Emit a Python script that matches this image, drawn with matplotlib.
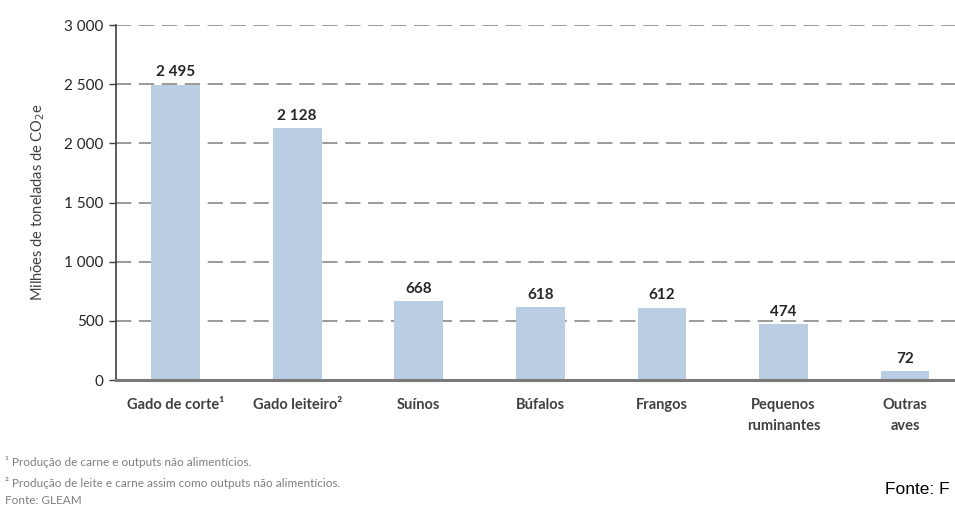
import matplotlib
matplotlib.use("Agg")
import matplotlib.pyplot as plt
from matplotlib.ticker import FixedLocator

categories = ["Gado de corte¹", "Gado leiteiro²", "Suínos", "Búfalos", "Frangos",
              "Pequenos\nruminantes", "Outras\naves"]
values = [2495, 2128, 668, 618, 612, 474, 72]
value_labels = ["2 495", "2 128", "668", "618", "612", "474", "72"]
yticks = [0, 500, 1000, 1500, 2000, 2500, 3000]
ytick_labels = ["0", "500", "1 000", "1 500", "2 000", "2 500", "3 000"]

plt.rcParams['font.family'] = ['Lato', 'DejaVu Sans']

fig = plt.figure(figsize=(9.55, 5.22), dpi=100)
ax = fig.add_axes([0.1215, 0.272, 0.8785, 0.68])

x = list(range(len(categories)))
ax.bar(x, values, width=0.4, color="#b9cde3", zorder=3)
for xi, v, lab in zip(x, values, value_labels):
    ax.text(xi, v + 45, lab, ha="center", va="bottom", fontsize=11,
            color="#262626", fontweight="bold", zorder=4)

ax.set_xlim(-0.49, 6.41)
ax.set_ylim(0, 3000)
ax.yaxis.set_major_locator(FixedLocator(yticks))
ax.set_yticklabels(ytick_labels, fontsize=11, color="#262626")
ax.set_xticks(x)
ax.set_xticklabels(categories, fontsize=10.5, color="#404040", fontweight="bold",
                   linespacing=1.6, va="top")
ax.tick_params(axis="x", length=0, pad=13)
ax.tick_params(axis="y", length=5, width=1, color="#404040", pad=4, direction="out")

ax.grid(axis="y", linestyle=(0, (10, 5)), color="#7f7f7f", linewidth=1.1, zorder=0)
for s in ["top", "right"]:
    ax.spines[s].set_visible(False)
ax.spines["left"].set_color("#404040")
ax.spines["left"].set_linewidth(1.2)
ax.spines["bottom"].set_color("#7a7a7a")
ax.spines["bottom"].set_linewidth(2.2)
ax.spines["bottom"].set_zorder(5)

ax.set_ylabel("Milhões de toneladas de CO$_2$e", fontsize=10.5, color="#404040", labelpad=12)

fig.text(0.005, 1 - 462/522, "¹ Produção de carne e outputs não alimentícios.",
         fontsize=8.5, color="#7f7f7f", va="center")
fig.text(0.005, 1 - 483/522, "² Produção de leite e carne assim como outputs não alimentícios.",
         fontsize=8.5, color="#7f7f7f", va="center")
fig.text(0.005, 1 - 501/522, "Fonte: GLEAM",
         fontsize=8.5, color="#7f7f7f", va="center")
fig.text(885/955, 1 - 490/522, "Fonte: F", fontsize=12.5, color="#000000",
         va="center", family="Liberation Sans")

fig.savefig("out.png", dpi=100)
